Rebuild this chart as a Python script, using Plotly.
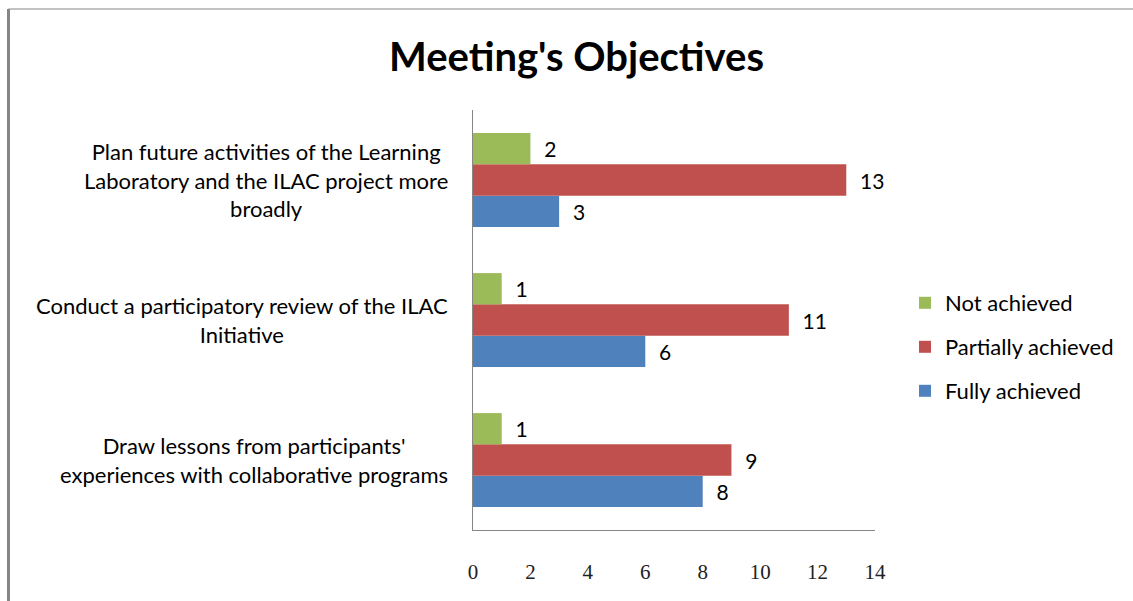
import plotly.graph_objects as go

categories = [
    "Draw lessons from participants'<br>experiences with collaborative programs",
    "Conduct a participatory review of the ILAC<br>Initiative",
    "Plan future activities of the Learning<br>Laboratory and the ILAC project more<br>broadly",
]
fully = [8, 6, 3]
partially = [9, 11, 13]
not_achieved = [1, 1, 2]
x_ticks = [0, 2, 4, 6, 8, 10, 12, 14]

W, H = 1133, 601
L, R, T, B = 473, 875, 110, 530

fig = go.Figure()
series = [
    ("Fully achieved", fully, "#4F81BD", "legend3"),
    ("Partially achieved", partially, "#C0504D", "legend2"),
    ("Not achieved", not_achieved, "#9BBB59", "legend"),
]
for name, vals, col, lg in series:
    fig.add_trace(go.Bar(
        y=list(range(len(categories))), x=vals, name=name, orientation="h",
        marker=dict(color=col, line=dict(width=0)),
        text=["\u00a0\u00a0" + str(v) for v in vals],
        textposition="outside", cliponaxis=False, constraintext="none",
        textfont=dict(family="Lato, Liberation Sans", size=21, color="#000000"),
        legend=lg,
    ))

def px_x(p):
    return (p - L) / (R - L)

def px_y(p):
    return (B - p) / (B - T)

annotations = []
for i, c in enumerate(categories):
    annotations.append(dict(
        x=px_x(450), xref="paper", y=i, yref="y", text=c, showarrow=False,
        xanchor="right", yanchor="middle", align="center",
        font=dict(family="Lato, Liberation Sans", size=22, color="#000000"),
    ))

leg_common = dict(
    xref="paper", yref="paper", xanchor="left", yanchor="middle",
    bgcolor="rgba(0,0,0,0)", font=dict(family="Lato, Liberation Sans", size=22, color="#000000"),
)
fig.update_layout(
    width=W, height=H,
    margin=dict(l=L, r=W - R, t=T, b=H - B, pad=0, autoexpand=False),
    paper_bgcolor="white", plot_bgcolor="white",
    title=dict(text="<b>Meeting's Objectives</b>", x=(388 + 765) / 2 / W, xanchor="center",
               y=1 - 57 / H, yanchor="middle",
               font=dict(family="Lato, Liberation Sans", size=40, color="#000000")),
    barmode="group", bargap=0.33, bargroupgap=0,
    xaxis=dict(range=[0, 14], tickvals=x_ticks, ticktext=[str(t) for t in x_ticks],
               showgrid=False, zeroline=False, showline=True, linecolor="#868686", linewidth=1,
               ticks="outside", ticklen=23, tickcolor="rgba(0,0,0,0)",
               tickfont=dict(family="Liberation Serif", size=21, color="#222222")),
    yaxis=dict(range=[-0.5, 2.5], showticklabels=False, showgrid=False, zeroline=False,
               showline=True, linecolor="#868686", linewidth=1, ticks=""),
    showlegend=True,
    legend=dict(x=px_x(905), y=px_y(303), **leg_common),
    legend2=dict(x=px_x(905), y=px_y(347), **leg_common),
    legend3=dict(x=px_x(905), y=px_y(391), **leg_common),
    annotations=annotations,
    shapes=[
        dict(type="line", xref="paper", yref="paper", x0=px_x(8.5), x1=px_x(1140), y0=px_y(9), y1=px_y(9),
             line=dict(color="#868686", width=1)),
        dict(type="line", xref="paper", yref="paper", x0=px_x(8.5), x1=px_x(8.5), y0=px_y(9), y1=px_y(610),
             line=dict(color="#868686", width=3)),
    ],
)
fig.write_html("out.html", config={"displayModeBar": False},
               post_script="document.body.style.margin='0';document.body.style.overflow='hidden';")
